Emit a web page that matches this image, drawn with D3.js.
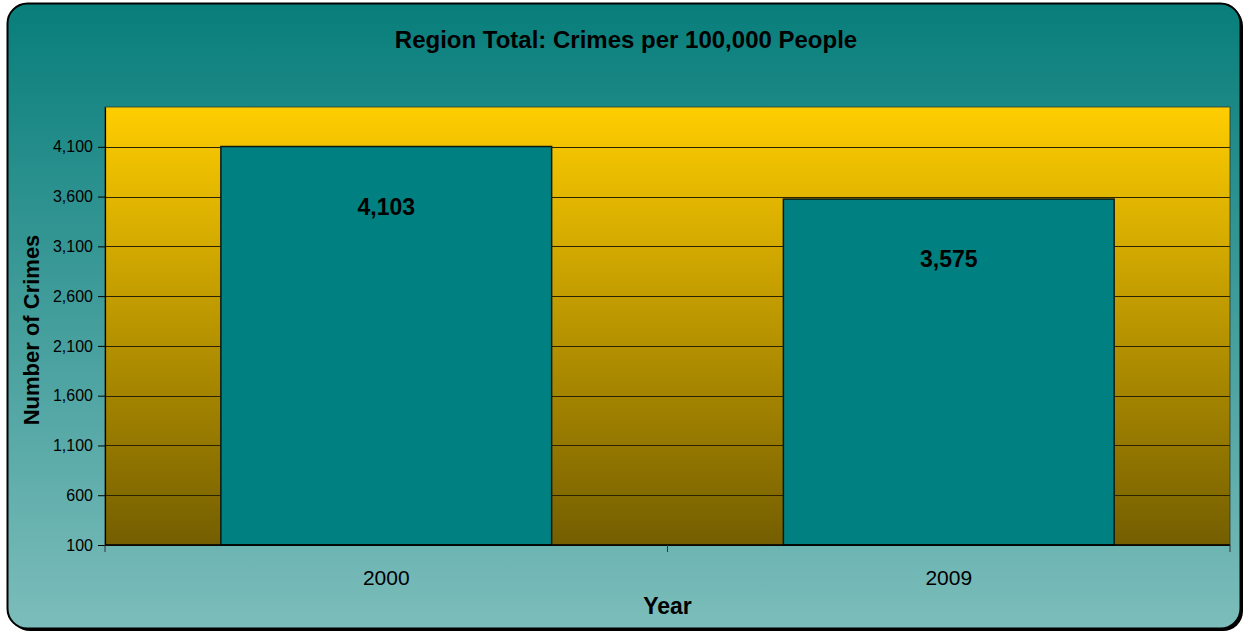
<!DOCTYPE html>
<html>
<head>
<meta charset="utf-8">
<script src="https://cdn.jsdelivr.net/npm/d3@7/dist/d3.min.js"></script>
<style>
  html, body { margin: 0; padding: 0; background: #ffffff; }
  svg { display: block; font-family: Arial, "Liberation Sans", sans-serif; }
</style>
</head>
<body>
<svg id="chart" width="1245" height="633"></svg>
<script>
// Crime rate per 100,000 people, region total
const years = ["2000", "2009"];
const crimes = [4103, 3575];
const yTicks = [100, 600, 1100, 1600, 2100, 2600, 3100, 3600, 4100];
const yDomain = [100, 4500];

const svg = d3.select("#chart");
const W = 1245, H = 633;
const margin = { left: 105, right: 15, top: 107, bottom: 88 };
const plotW = W - margin.left - margin.right;
const plotH = H - margin.top - margin.bottom;

const defs = svg.append("defs");
const bgGrad = defs.append("linearGradient").attr("id", "bgGrad")
  .attr("x1", 0).attr("y1", 0).attr("x2", 0).attr("y2", 1);
bgGrad.append("stop").attr("offset", "0%").attr("stop-color", "#087e7b");
bgGrad.append("stop").attr("offset", "100%").attr("stop-color", "#7cbdbb");

const plotGrad = defs.append("linearGradient").attr("id", "plotGrad")
  .attr("x1", 0).attr("y1", 0).attr("x2", 0).attr("y2", 1);
plotGrad.append("stop").attr("offset", "0%").attr("stop-color", "#ffcd00");
plotGrad.append("stop").attr("offset", "100%").attr("stop-color", "#745e00");

// Outer panel: shadow, then the rounded gradient card
svg.append("rect")
  .attr("x", 10).attr("y", 6).attr("width", 1233).attr("height", 625)
  .attr("rx", 20).attr("ry", 20).attr("fill", "#000");
svg.append("rect")
  .attr("x", 7.5).attr("y", 3.5).attr("width", 1233).attr("height", 625)
  .attr("rx", 20).attr("ry", 20)
  .attr("fill", "url(#bgGrad)").attr("stroke", "#000").attr("stroke-width", 2);

const g = svg.append("g").attr("transform", `translate(${margin.left},${margin.top})`);

const x = d3.scaleBand().domain(years).range([0, plotW]).paddingInner(0.412).paddingOuter(0.206);
const xCat = d3.scaleBand().domain(years).range([0, plotW]);
const y = d3.scaleLinear().domain(yDomain).range([plotH, 0]);

// Plot area
g.append("rect")
  .attr("x", 0).attr("y", 0).attr("width", plotW).attr("height", plotH)
  .attr("fill", "url(#plotGrad)")
  .attr("stroke", "#2b3a30").attr("stroke-opacity", 0.8).attr("stroke-width", 1);

// Gridlines
g.append("g").selectAll("line").data(yTicks).join("line")
  .attr("x1", 0).attr("x2", plotW)
  .attr("y1", d => Math.round(y(d)) + 0.5).attr("y2", d => Math.round(y(d)) + 0.5)
  .attr("stroke", "#2a2200").attr("stroke-width", 1);

// Bars
g.append("g").selectAll("rect").data(crimes).join("rect")
  .attr("x", (d, i) => x(years[i]))
  .attr("y", d => y(d))
  .attr("width", x.bandwidth())
  .attr("height", d => y(yDomain[0]) - y(d))
  .attr("fill", "#008080")
  .attr("stroke", "#0a1a14").attr("stroke-width", 1.5);

// Value labels
g.append("g").selectAll("text").data(crimes).join("text")
  .attr("x", (d, i) => x(years[i]) + x.bandwidth() / 2)
  .attr("y", d => y(d) + 68)
  .attr("text-anchor", "middle")
  .attr("font-size", 23).attr("font-weight", "bold").attr("fill", "#000")
  .text(d => d3.format(",")(d));

// Y axis
const yAxis = g.append("g")
  .call(d3.axisLeft(y).tickValues(yTicks).tickFormat(d3.format(","))
    .tickSizeInner(7).tickSizeOuter(0).tickPadding(5));
yAxis.select(".domain").attr("stroke", "#000").attr("stroke-width", 1.2);
yAxis.selectAll(".tick line").attr("stroke", "#000");
yAxis.selectAll(".tick text").attr("font-size", 16).attr("fill", "#000")
  .attr("font-family", "Arial, 'Liberation Sans', sans-serif");

// X axis: ticks at category boundaries
const xAxisG = g.append("g").attr("transform", `translate(0,${plotH})`);
xAxisG.append("line").attr("x1", 0).attr("x2", plotW).attr("y1", 0).attr("y2", 0)
  .attr("stroke", "#000").attr("stroke-width", 1.5);
const boundaries = years.map(c => xCat(c)).concat([plotW]);
xAxisG.selectAll("line.tk").data(boundaries).join("line").attr("class", "tk")
  .attr("x1", d => d).attr("x2", d => d).attr("y1", 0).attr("y2", 7)
  .attr("stroke", "#333").attr("stroke-width", 1);
xAxisG.selectAll("text").data(years).join("text")
  .attr("x", d => xCat(d) + xCat.bandwidth() / 2)
  .attr("y", 40)
  .attr("text-anchor", "middle")
  .attr("font-size", 21).attr("fill", "#000")
  .text(d => d);

// Titles
svg.append("text")
  .attr("x", 626).attr("y", 48)
  .attr("text-anchor", "middle")
  .attr("font-size", 24).attr("font-weight", "bold").attr("fill", "#000")
  .text("Region Total: Crimes per 100,000 People");

svg.append("text")
  .attr("x", margin.left + plotW / 2).attr("y", 614)
  .attr("text-anchor", "middle")
  .attr("font-size", 23).attr("font-weight", "bold").attr("fill", "#000")
  .text("Year");

svg.append("text")
  .attr("transform", `translate(39,${margin.top + plotH / 2 + 4}) rotate(-90)`)
  .attr("text-anchor", "middle")
  .attr("font-size", 22).attr("font-weight", "bold").attr("fill", "#000")
  .text("Number of Crimes");
</script>
</body>
</html>
